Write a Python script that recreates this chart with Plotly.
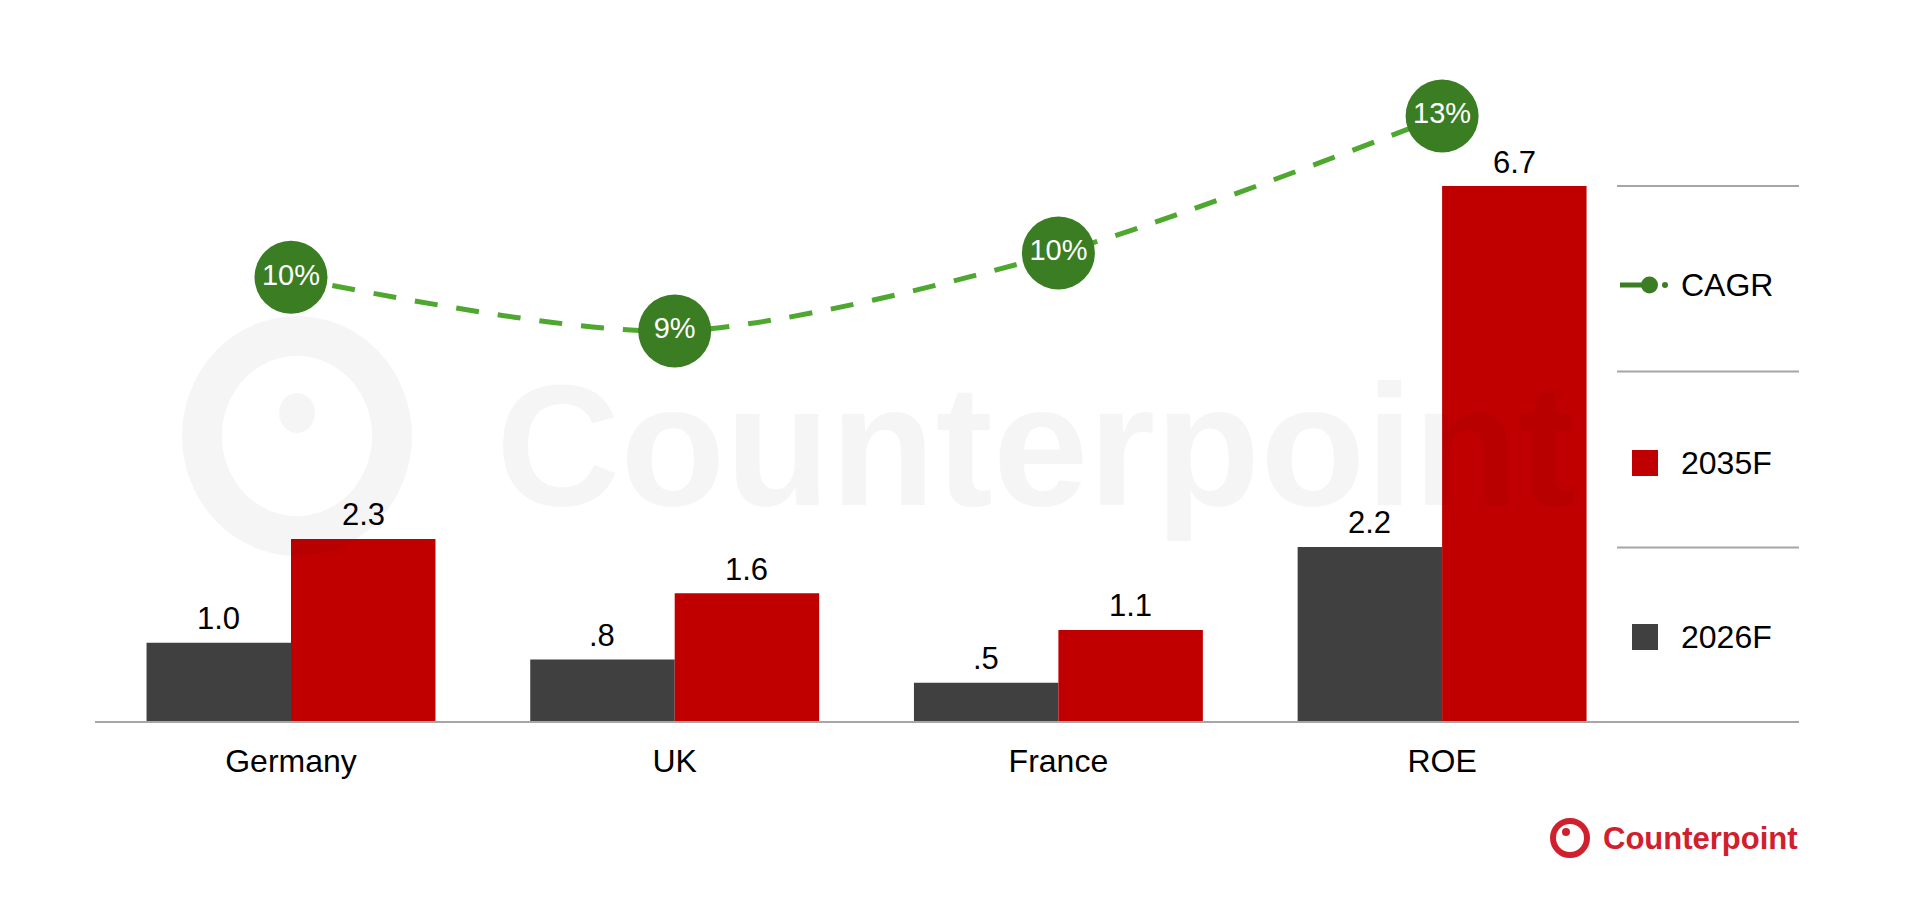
import plotly.graph_objects as go

# ---------------- data ----------------
categories = ["Germany", "UK", "France", "ROE"]
values_2026 = [0.98, 0.77, 0.48, 2.18]
values_2035 = [2.28, 1.60, 1.14, 6.70]
cagr_pct = [10.0, 9.0, 10.45, 13.0]
series_names = ["2026F", "2035F", "CAGR"]

# ---------------- styles ----------------
FONT = "Liberation Sans, Arial, sans-serif"
DARK = "#404040"
RED = "#C00000"
GREEN_M = "#3A7D22"
GREEN_L = "#4EA72E"
GRID = "#A6A6A6"

OFF = 8                      # default body margin of the page
W, H = 1916 - 2 * OFF, 913 - 2 * OFF
L, R, T, B = 95, 1799, 40, 721   # plot area in screen pixels

X_UNIT = 383.7               # px per category
X0C = 291                    # screen x of first category
Y_UNIT = 79.85               # px per unit of value
BAR_HALF = X_UNIT * (1 - 0.247) / 4


def px(x):
    return (x - L) / (R - L)


def py(y):
    return (B - y) / (B - T)


def fmt_val(v):
    s = f"{v:.1f}"
    return s[1:] if s.startswith("0") else s


fig = go.Figure()

fig.add_trace(go.Bar(
    x=categories, y=values_2026, name=series_names[0],
    marker=dict(color=DARK, line=dict(width=0)), showlegend=False,
))
fig.add_trace(go.Bar(
    x=categories, y=values_2035, name=series_names[1],
    marker=dict(color=RED, line=dict(width=0)), showlegend=False,
))
fig.add_trace(go.Scatter(
    x=categories, y=cagr_pct, name=series_names[2], yaxis="y2",
    mode="lines+markers", line=dict(color=GREEN_L, width=5, dash="23px,19px", shape="spline", smoothing=0.8),
    marker=dict(size=73, color=GREEN_M, line=dict(width=0)),
    cliponaxis=False, showlegend=False,
))
fig.add_trace(go.Scatter(
    x=categories, y=cagr_pct, yaxis="y2", mode="text",
    text=[f"{round(v)}%" for v in cagr_pct], textposition="middle center",
    textfont=dict(family=FONT, size=29, color="#FFFFFF"),
    cliponaxis=False, showlegend=False, hoverinfo="skip",
))

shapes = []
annotations = []

# bar value labels
for vals, sh in [(values_2026, -BAR_HALF), (values_2035, BAR_HALF)]:
    for c, v in zip(categories, vals):
        annotations.append(dict(x=c, y=v, xref="x", yref="y", text=fmt_val(v), showarrow=False,
                                xshift=sh, yshift=24, xanchor="center", yanchor="middle",
                                font=dict(family=FONT, size=31, color="#000000")))

# legend separators
for gy in [186, 371.5, 547.5]:
    shapes.append(dict(type="line", xref="paper", yref="paper", x0=px(1617), x1=px(1799),
                       y0=py(gy), y1=py(gy), line=dict(color=GRID, width=2)))

# legend: CAGR
ly = [285, 463, 637]
shapes.append(dict(type="line", xref="paper", yref="paper", x0=px(1620), x1=px(1648),
                   y0=py(ly[0]), y1=py(ly[0]), line=dict(color=GREEN_M, width=5)))
shapes.append(dict(type="circle", xref="paper", yref="paper", x0=px(1641), x1=px(1658),
                   y0=py(ly[0] + 8.5), y1=py(ly[0] - 8.5), fillcolor=GREEN_M, line=dict(width=0)))
shapes.append(dict(type="circle", xref="paper", yref="paper", x0=px(1662), x1=px(1668),
                   y0=py(ly[0] + 3), y1=py(ly[0] - 3), fillcolor=GREEN_M, line=dict(width=0)))
# legend: squares
for yy, col in [(ly[1], RED), (ly[2], DARK)]:
    shapes.append(dict(type="rect", xref="paper", yref="paper", x0=px(1632), x1=px(1658),
                       y0=py(yy + 13), y1=py(yy - 13), fillcolor=col, line=dict(width=0)))
for yy, name in zip(ly, [series_names[2], series_names[1], series_names[0]]):
    annotations.append(dict(xref="paper", yref="paper", x=px(1679), y=py(yy), text=name,
                            xanchor="left", yanchor="middle", showarrow=False,
                            font=dict(family=FONT, size=32, color="#000000")))

# watermark
WM = "rgba(0,0,0,0.04)"
annotations.append(dict(xref="paper", yref="paper", x=px(1036), y=py(445), text="<b>Counterpoint</b>",
                        xanchor="center", yanchor="middle", showarrow=False,
                        font=dict(family=FONT, size=172, color=WM)))
shapes.append(dict(type="circle", xref="paper", yref="paper", x0=px(297 - 95), x1=px(297 + 95),
                   y0=py(436 + 100), y1=py(436 - 100), line=dict(color=WM, width=40)))
shapes.append(dict(type="circle", xref="paper", yref="paper", x0=px(297 - 18), x1=px(297 + 18),
                   y0=py(413 + 20), y1=py(413 - 20), fillcolor=WM, line=dict(width=0)))

# bottom-right logo
LOGO = "#D0202E"
shapes.append(dict(type="circle", xref="paper", yref="paper", x0=px(1570 - 17), x1=px(1570 + 17),
                   y0=py(838 + 17), y1=py(838 - 17), line=dict(color=LOGO, width=6)))
shapes.append(dict(type="circle", xref="paper", yref="paper", x0=px(1566 - 4), x1=px(1566 + 4),
                   y0=py(832 + 4), y1=py(832 - 4), fillcolor=LOGO, line=dict(width=0)))
annotations.append(dict(xref="paper", yref="paper", x=px(1601), y=py(838), text="<b>Counterpoint</b>",
                        xanchor="left", yanchor="middle", showarrow=False,
                        font=dict(family=FONT, size=31, color=LOGO)))

fig.update_layout(
    width=W, height=H,
    margin=dict(l=L - OFF, r=W - (R - OFF), t=T - OFF, b=H - (B - OFF), pad=0),
    paper_bgcolor="#FFFFFF", plot_bgcolor="rgba(0,0,0,0)",
    barmode="group", bargap=0.247, bargroupgap=0,
    font=dict(family=FONT, color="#000000"),
    showlegend=False,
    xaxis=dict(range=[(L - X0C) / X_UNIT, (R - X0C) / X_UNIT], showline=True, linecolor=GRID, linewidth=2,
               showgrid=False, zeroline=False, ticks="", tickfont=dict(family=FONT, size=32, color="#000000"),
               ticklabelstandoff=11),
    yaxis=dict(range=[0, (B - T) / Y_UNIT], visible=False, showgrid=False, zeroline=False),
    yaxis2=dict(overlaying="y", range=[(814.75 - B) / 53.75, (814.75 - T) / 53.75], visible=False,
                showgrid=False, zeroline=False),
    shapes=shapes, annotations=annotations,
)

fig.write_html("out.html")
